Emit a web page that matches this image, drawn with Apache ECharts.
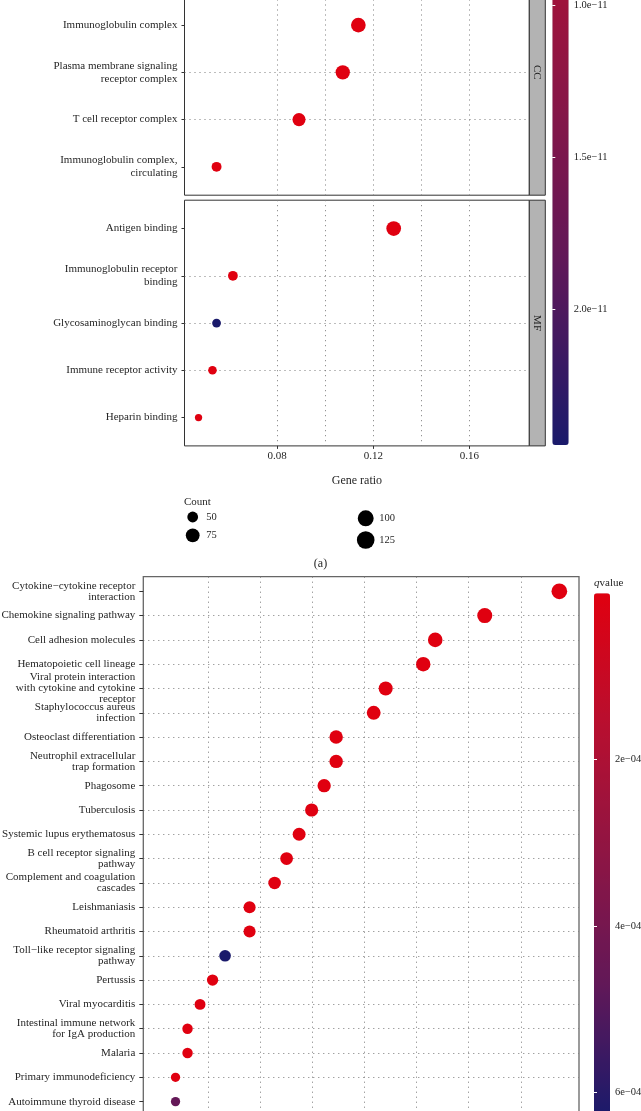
<!DOCTYPE html>
<html><head><meta charset="utf-8">
<script src="https://cdn.jsdelivr.net/npm/echarts@6/dist/echarts.min.js"></script>
<style>html,body{margin:0;padding:0;background:#fff}#c{width:641px;height:1111px}</style>
</head><body><div id="c"></div>
<script>
// ---------------- DATA ----------------
// (a) GO enrichment – CC facet (one further row lies above the visible picture)
const ccTerms = ['Immunoglobulin complex', 'Plasma membrane signaling\nreceptor complex', 'T cell receptor complex', 'Immunoglobulin complex,\ncirculating'];
const ccGeneRatio = [0.1138, 0.1073, 0.0891, 0.0548];
const ccCount = [107, 101, 84, 52];
const ccPadj = [3.6e-40, 8.2e-36, 1.4e-33, 2.5e-24];
// (a) GO enrichment – MF facet
const mfTerms = ['Antigen binding', 'Immunoglobulin receptor\nbinding', 'Glycosaminoglycan binding', 'Immune receptor activity', 'Heparin binding'];
const mfGeneRatio = [0.1285, 0.0616, 0.0548, 0.0531, 0.0473];
const mfCount = [107, 51, 45, 44, 39];
const mfPadj = [1.9e-45, 6.3e-19, 2.446e-11, 4.1e-15, 7.7e-14];
const goColorRange = [0, 2.446e-11];
const goXTicks = [0.08, 0.12, 0.16];
const goXTickLabels = ['0.08', '0.12', '0.16'];
const goXGrid = [0.06, 0.08, 0.10, 0.12, 0.14, 0.16, 0.18];
const goXRange = [0.04146, 0.18492];
const goColorTicks = [1.0e-11, 1.5e-11, 2.0e-11];
const goColorTickLabels = ['1.0e\u221211', '1.5e\u221211', '2.0e\u221211'];
const countBreaks = [50, 75, 100, 125];
const countBreakLabels = ['50', '75', '100', '125'];
const facetNames = ['CC', 'MF'];

// (b) KEGG enrichment
const keggTerms = [
  'Cytokine\u2212cytokine receptor\ninteraction',
  'Chemokine signaling pathway',
  'Cell adhesion molecules',
  'Hematopoietic cell lineage',
  'Viral protein interaction\nwith cytokine and cytokine\nreceptor',
  'Staphylococcus aureus\ninfection',
  'Osteoclast differentiation',
  'Neutrophil extracellular\ntrap formation',
  'Phagosome',
  'Tuberculosis',
  'Systemic lupus erythematosus',
  'B cell receptor signaling\npathway',
  'Complement and coagulation\ncascades',
  'Leishmaniasis',
  'Rheumatoid arthritis',
  'Toll\u2212like receptor signaling\npathway',
  'Pertussis',
  'Viral myocarditis',
  'Intestinal immune network\nfor IgA production',
  'Malaria',
  'Primary immunodeficiency',
  'Autoimmune thyroid disease'
];
const keggCount = [41, 35, 31, 30, 27, 26, 23, 23, 22, 21, 20, 19, 18, 16, 16, 14, 13, 12, 11, 11, 10, 10];
const keggGeneRatio = [0.0974, 0.0831, 0.0736, 0.0713, 0.0641, 0.0618, 0.0546, 0.0546, 0.0523, 0.0499, 0.0475, 0.0451, 0.0428, 0.0380, 0.0380, 0.0333, 0.0309, 0.0285, 0.0261, 0.0261, 0.0238, 0.0238];
const keggQvalue = [2.1e-21, 3.4e-17, 1.2e-15, 6.5e-17, 4.0e-18, 2.2e-14, 1.8e-9, 7.5e-8, 3.1e-7, 4.4e-6, 1.6e-7, 2.7e-10, 1.9e-9, 5.1e-9, 3.0e-8, 6.285e-4, 1.1e-6, 4.8e-6, 2.6e-7, 1.3e-6, 3.7e-7, 4.6e-4];
const keggColorRange = [0, 6.285e-4];
const keggColorTicks = [2e-4, 4e-4, 6e-4];
const keggColorTickLabels = ['2e\u221204', '4e\u221204', '6e\u221204'];
const keggXGrid = [0.02, 0.03, 0.04, 0.05, 0.06, 0.07, 0.08, 0.09, 0.10];
const keggXRange = [0.01762, 0.10117];

// ---------------- STYLE / LAYOUT ----------------
const FONT = 'Liberation Serif';
const TXT = '#262626';
const palette = ['#E00010', '#B80F2F', '#8E1544', '#611858', '#1A1A6B'];
const DOT = { type: [1, 4], color: '#7a7a7a', width: 1 };
const GO = { left: 184.5, width: 344.8, cc: { top: -50.5, height: 245.7 }, mf: { top: 200.2, height: 245.7 }, strip: 16 };
const KG = { left: 143.3, width: 435.7, top: 576.7, height: 539.5 };
const CB_GO = { left: 552.3, width: 16.4, top: -298.7, height: 743.7 };
const CB_KG = { left: 594, width: 16, top: 593.3, height: 522.7 };

function sizeGO(c) { return 5.8 + 1.063 * Math.sqrt(Math.max(c - 37, 0)); }
function sizeKEGG(c) { return 9.3 + 6.4 * Math.sqrt(Math.max(c - 10, 0) / 31); }

function rows(ratio, count, val) { return ratio.map((r, i) => [r, i, count[i], val[i]]); }
function pick(vals, labels, tol) { return v => { const i = vals.findIndex(t => Math.abs(t - v) < tol); return i >= 0 ? labels[i] : ''; }; }

function catAxis(gridIndex, terms, extraTop, fontSize, lineHeight, tickLen, margin) {
  const idx = terms.map((_, i) => i);
  return {
    type: 'value', gridIndex, inverse: true,
    min: -0.6 - extraTop, max: terms.length - 0.4, splitNumber: terms.length + extraTop,
    axisLine: { show: false },
    axisTick: { show: true, length: tickLen, customValues: idx, lineStyle: { color: '#333', width: 1 } },
    axisLabel: {
      show: true, customValues: idx, margin, showMinLabel: true, showMaxLabel: true, hideOverlap: false,
      formatter: v => { const k = Math.round(v); return (Math.abs(v - k) < 1e-6 && terms[k] !== undefined) ? terms[k] : ''; },
      fontFamily: FONT, fontSize, lineHeight, color: TXT, align: 'right'
    },
    splitLine: { show: true, showMinLine: false, showMaxLine: false, lineStyle: DOT }
  };
}
function gridXAxis(gridIndex, range, gridVals) {
  return {
    type: 'value', gridIndex, min: range[0], max: range[1], splitNumber: gridVals.length - 1, position: 'top',
    axisLine: { show: false }, axisTick: { show: false, customValues: gridVals },
    axisLabel: { show: false, customValues: gridVals },
    splitLine: { show: true, showMinLine: false, showMaxLine: false, lineStyle: DOT }
  };
}
function cbAxis(gridIndex, range, ticks, labels, pos, showLabel, tol) {
  return {
    type: 'value', gridIndex, position: pos, inverse: true, min: range[0], max: range[1], z: 10,
    axisLine: { show: false },
    axisTick: { show: true, inside: true, length: 3, customValues: ticks, lineStyle: { color: '#ffffff', width: 1 } },
    axisLabel: { show: showLabel, customValues: ticks, formatter: pick(ticks, labels, tol), margin: 5, fontFamily: FONT, fontSize: 10.5, color: TXT, showMinLabel: true, showMaxLabel: true },
    splitLine: { show: false }
  };
}

const grids = [
  { left: GO.left, width: GO.width, top: GO.cc.top, height: GO.cc.height, show: true, borderColor: '#333', borderWidth: 1, backgroundColor: 'transparent', containLabel: false, outerBoundsMode: 'none' },
  { left: GO.left, width: GO.width, top: GO.mf.top, height: GO.mf.height, show: true, borderColor: '#333', borderWidth: 1, backgroundColor: 'transparent', containLabel: false, outerBoundsMode: 'none' },
  { left: KG.left, width: KG.width, top: KG.top, height: KG.height, show: true, borderColor: '#666', borderWidth: 1.3, backgroundColor: 'transparent', containLabel: false, outerBoundsMode: 'none' },
  { left: CB_GO.left, width: CB_GO.width, top: CB_GO.top, height: CB_GO.height, containLabel: false, outerBoundsMode: 'none' },
  { left: CB_KG.left, width: CB_KG.width, top: CB_KG.top, height: CB_KG.height, containLabel: false, outerBoundsMode: 'none' }
];

const xAxes = [
  gridXAxis(0, goXRange, goXGrid),                       // 0 CC
  gridXAxis(1, goXRange, goXGrid),                       // 1 MF grid lines
  {                                                      // 2 MF labels
    type: 'value', gridIndex: 1, min: goXRange[0], max: goXRange[1], position: 'bottom', splitNumber: 7,
    axisLine: { show: false },
    axisTick: { show: true, length: 3, customValues: goXTicks, lineStyle: { color: '#333', width: 1 } },
    axisLabel: { show: true, customValues: goXTicks, formatter: pick(goXTicks, goXTickLabels, 1e-6), margin: 5, fontFamily: FONT, fontSize: 11, color: TXT, showMinLabel: true, showMaxLabel: true },
    splitLine: { show: false },
    name: 'Gene ratio', nameLocation: 'middle', nameGap: 29,
    nameTextStyle: { fontFamily: FONT, fontSize: 12, color: TXT }
  },
  gridXAxis(2, keggXRange, keggXGrid),                   // 3 KEGG
  { type: 'value', gridIndex: 3, show: false },          // 4
  { type: 'value', gridIndex: 4, show: false }           // 5
];
const yAxes = [
  catAxis(0, ccTerms, 1, 11, 13, 3, 7),
  catAxis(1, mfTerms, 0, 11, 13, 3, 7),
  catAxis(2, keggTerms, 0, 11, 11, 4, 8),
  cbAxis(3, goColorRange, goColorTicks, goColorTickLabels, 'right', true, 1e-15),
  cbAxis(3, goColorRange, goColorTicks, goColorTickLabels, 'left', false, 1e-15),
  cbAxis(4, keggColorRange, keggColorTicks, keggColorTickLabels, 'right', true, 1e-9),
  cbAxis(4, keggColorRange, keggColorTicks, keggColorTickLabels, 'left', false, 1e-9)
];

const series = [
  { type: 'scatter', xAxisIndex: 0, yAxisIndex: 0, data: rows(ccGeneRatio, ccCount, ccPadj), symbolSize: v => sizeGO(v[2]), itemStyle: { opacity: 1 }, z: 3 },
  { type: 'scatter', xAxisIndex: 2, yAxisIndex: 1, data: rows(mfGeneRatio, mfCount, mfPadj), symbolSize: v => sizeGO(v[2]), itemStyle: { opacity: 1 }, z: 3 },
  { type: 'scatter', xAxisIndex: 3, yAxisIndex: 2, data: rows(keggGeneRatio, keggCount, keggQvalue), symbolSize: v => sizeKEGG(v[2]), itemStyle: { opacity: 1 }, z: 3 }
];

const visualMaps = [
  { type: 'continuous', seriesIndex: [0, 1], dimension: 3, min: goColorRange[0], max: goColorRange[1], inverse: true, orient: 'vertical',
    left: CB_GO.left, top: CB_GO.top, itemWidth: CB_GO.width, itemHeight: CB_GO.height, padding: 0, calculable: false, hoverLink: false,
    inRange: { color: palette } },
  { type: 'continuous', seriesIndex: [2], dimension: 3, min: keggColorRange[0], max: keggColorRange[1], inverse: true, orient: 'vertical',
    left: CB_KG.left, top: CB_KG.top, itemWidth: CB_KG.width, itemHeight: CB_KG.height, padding: 0, calculable: false, hoverLink: false,
    inRange: { color: palette } }
];

// strips, size legend, captions
const graphics = [];
[GO.cc, GO.mf].forEach((p, i) => {
  graphics.push({ type: 'rect', shape: { x: GO.left + GO.width, y: p.top, width: GO.strip, height: p.height }, style: { fill: '#B3B3B3', stroke: '#333', lineWidth: 1 }, z: 5 });
  graphics.push({ type: 'text', x: GO.left + GO.width + GO.strip / 2, y: p.top + p.height / 2, rotation: -Math.PI / 2,
    style: { text: facetNames[i], fill: '#1a1a1a', font: '11px "Liberation Serif"', align: 'center', verticalAlign: 'middle', textAlign: 'center', textVerticalAlign: 'middle' }, z: 6 });
});
const LEG = { titleX: 184, titleY: 501.7, cols: [192.7, 365.7], rowsY: [[517, 535.3], [518.3, 540]], labelDx: 13.5, scale: 1.12 };
graphics.push({ type: 'text', x: LEG.titleX, y: LEG.titleY, style: { text: 'Count', fill: TXT, font: '11px "Liberation Serif"', align: 'left', verticalAlign: 'middle', textAlign: 'left', textVerticalAlign: 'middle' } });
countBreaks.forEach((c, i) => {
  const col = Math.floor(i / 2), row = i % 2;
  const cx = LEG.cols[col], cy = LEG.rowsY[col][row];
  graphics.push({ type: 'circle', shape: { cx, cy, r: sizeGO(c) * LEG.scale / 2 }, style: { fill: '#000' } });
  graphics.push({ type: 'text', x: cx + LEG.labelDx, y: cy, style: { text: countBreakLabels[i], fill: TXT, font: '10.5px "Liberation Serif"', align: 'left', verticalAlign: 'middle', textAlign: 'left', textVerticalAlign: 'middle' } });
});
graphics.push({ type: 'text', x: 320.5, y: 564, style: { text: '(a)', fill: TXT, font: '12px "Liberation Serif"', align: 'center', verticalAlign: 'middle', textAlign: 'center', textVerticalAlign: 'middle' } });
graphics.push({ type: 'text', x: CB_KG.left, y: 583.5, style: { text: '{i|q}value', fill: TXT, font: '11px "Liberation Serif"', align: 'left', verticalAlign: 'middle', textAlign: 'left', textVerticalAlign: 'middle',
  rich: { i: { fontStyle: 'italic', fontFamily: FONT, fontSize: 11, fill: TXT, color: TXT } } } });

const chart = echarts.init(document.getElementById('c'), null, { renderer: 'canvas', width: 641, height: 1111 });
chart.setOption({
  animation: false,
  backgroundColor: '#ffffff',
  textStyle: { fontFamily: FONT },
  grid: grids, xAxis: xAxes, yAxis: yAxes, series, visualMap: visualMaps, graphic: { elements: graphics }
});
</script></body></html>
